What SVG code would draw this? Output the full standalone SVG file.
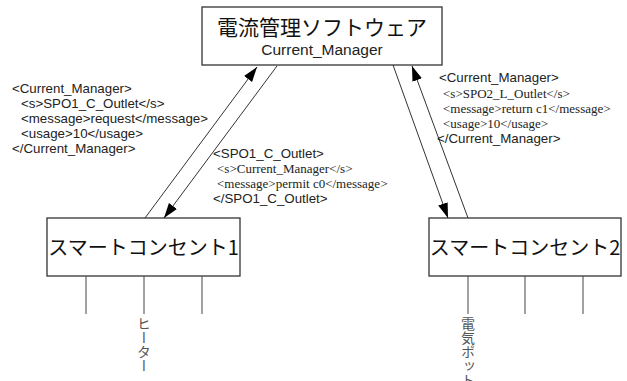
<svg xmlns="http://www.w3.org/2000/svg" width="627" height="381" viewBox="0 0 627 381">
<style>
.box{fill:#fff;stroke:#333;stroke-width:1.3}
.jp{font-family:"Noto Sans CJK JP","Noto Sans",sans-serif;fill:#111}
.sans{font-family:"Liberation Sans",Arial,sans-serif;font-size:13.3px;fill:#222}
.serif{font-family:"Liberation Serif","Times New Roman",serif;font-size:13px;fill:#222}
.conn{stroke:#333;stroke-width:1;fill:none}
.leg{stroke:#444;stroke-width:1}
.vlabel{font-family:"Noto Sans CJK JP",sans-serif;font-size:14px;fill:#555;writing-mode:vertical-rl}
</style>
<defs>
<marker id="arrow" markerUnits="userSpaceOnUse" markerWidth="16" markerHeight="11" refX="15" refY="5" orient="auto">
<path d="M0,0 L15,5 L0,10 z" fill="#000"/>
</marker>
</defs>

<g id="manager">
<rect class="box" x="202" y="7" width="240" height="58"/>
<text class="jp" x="322" y="35" font-size="21" text-anchor="middle">電流管理ソフトウェア</text>
<text x="322" y="55" font-family="Liberation Sans,Arial,sans-serif" font-size="15.5" fill="#222" text-anchor="middle">Current_Manager</text>
</g>

<g id="outlet1">
<rect class="box" x="47" y="218" width="193" height="58"/>
<text class="jp" x="143.5" y="255" font-size="20" text-anchor="middle">スマートコンセント1</text>
<line class="leg" x1="86" y1="276" x2="86" y2="314"/>
<line class="leg" x1="144" y1="276" x2="144" y2="314"/>
<line class="leg" x1="202" y1="276" x2="202" y2="314"/>
<text class="vlabel" x="144" y="317">ヒーター</text>
</g>

<g id="outlet2">
<rect class="box" x="429" y="218" width="192" height="58"/>
<text class="jp" x="525" y="255" font-size="20" text-anchor="middle">スマートコンセント2</text>
<line class="leg" x1="468" y1="276" x2="468" y2="314"/>
<line class="leg" x1="525" y1="276" x2="525" y2="314"/>
<line class="leg" x1="583" y1="276" x2="583" y2="314"/>
<text class="vlabel" x="468" y="317">電気ポット</text>
</g>

<g id="connectors">
<line class="conn" x1="145" y1="218" x2="257" y2="67" marker-end="url(#arrow)"/>
<line class="conn" x1="277" y1="66" x2="164" y2="218" marker-end="url(#arrow)"/>
<line class="conn" x1="393" y1="65" x2="448" y2="218" marker-end="url(#arrow)"/>
<line class="conn" x1="468" y1="218" x2="412" y2="66" marker-end="url(#arrow)"/>
</g>

<g id="msg1">
<text class="sans" x="12" y="93">&lt;Current_Manager&gt;</text>
<text class="sans" x="21" y="108">&lt;s&gt;SPO1_C_Outlet&lt;/s&gt;</text>
<text class="sans" x="21" y="123">&lt;message&gt;request&lt;/message&gt;</text>
<text class="sans" x="21" y="138">&lt;usage&gt;10&lt;/usage&gt;</text>
<text class="sans" x="12" y="153">&lt;/Current_Manager&gt;</text>
</g>

<g id="msg2">
<text class="sans" x="213" y="158" font-size="12.5">&lt;SPO1_C_Outlet&gt;</text>
<text class="serif" x="217" y="173">&lt;s&gt;Current_Manager&lt;/s&gt;</text>
<text class="serif" x="217" y="188">&lt;message&gt;permit c0&lt;/message&gt;</text>
<text class="sans" x="213" y="203" font-size="12.5">&lt;/SPO1_C_Outlet&gt;</text>
</g>

<g id="msg3">
<text class="sans" x="439" y="82" font-size="12.7">&lt;Current_Manager&gt;</text>
<text class="serif" x="443" y="98">&lt;s&gt;SPO2_L_Outlet&lt;/s&gt;</text>
<text class="serif" x="443" y="113">&lt;message&gt;return c1&lt;/message&gt;</text>
<text class="serif" x="443" y="128">&lt;usage&gt;10&lt;/usage&gt;</text>
<text class="sans" x="437" y="143" font-size="12.7">&lt;/Current_Manager&gt;</text>
</g>
</svg>
